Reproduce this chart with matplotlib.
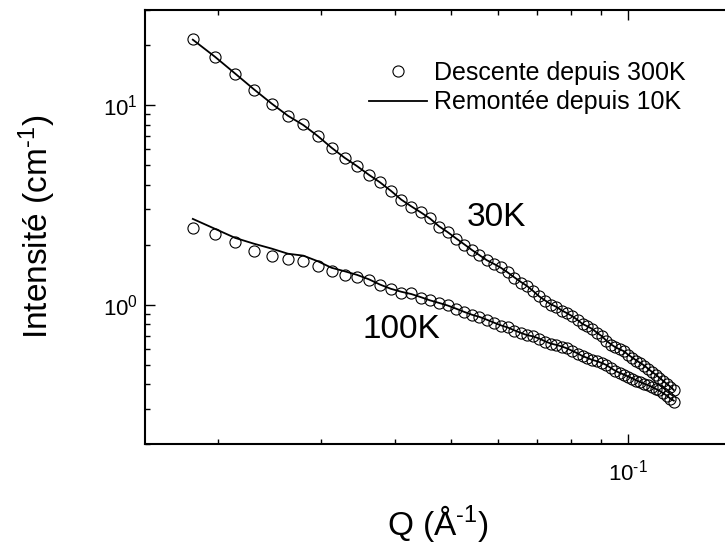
import matplotlib
matplotlib.use('Agg')
import matplotlib.pyplot as plt
from matplotlib.ticker import LogLocator, NullFormatter, FuncFormatter
import numpy as np

# SANS curves, log-log, 30K and 100K

plt.rcParams['font.family'] = ['Liberation Sans', 'DejaVu Sans']
plt.rcParams['mathtext.fontset'] = 'custom'
plt.rcParams['mathtext.rm'] = 'Liberation Sans'
plt.rcParams['mathtext.default'] = 'regular'

q = [0.0181, 0.01974, 0.02138, 0.02302, 0.02466, 0.0263, 0.02794, 0.02958, 0.03122, 0.03286,
     0.0345, 0.03614, 0.03778, 0.03942, 0.04106, 0.0427, 0.04434, 0.04598, 0.04762, 0.04926,
     0.0509, 0.05254, 0.05418, 0.05582, 0.05746, 0.0591, 0.06074, 0.06238, 0.06402, 0.06566,
     0.0673, 0.06894, 0.07058, 0.07222, 0.07386, 0.0755, 0.07714, 0.07878, 0.08042, 0.08206,
     0.0837, 0.08534, 0.08698, 0.08862, 0.09026, 0.0919, 0.09354, 0.09518, 0.09682, 0.09846,
     0.1001, 0.10174, 0.10338, 0.10502, 0.10666, 0.1083, 0.10994, 0.11158, 0.11322, 0.11486,
     0.1165, 0.11814, 0.11978]

i30_desc = [21.47, 17.36, 14.33, 11.93, 10.14, 8.81, 8.08, 6.99, 6.09, 5.43,
            4.96, 4.46, 4.11, 3.72, 3.34, 3.10, 2.91, 2.71, 2.45, 2.30,
            2.14, 2.00, 1.88, 1.78, 1.67, 1.60, 1.54, 1.46, 1.36, 1.29,
            1.245, 1.175, 1.103, 1.047, 1.0, 0.977, 0.933, 0.906, 0.876, 0.836,
            0.798, 0.780, 0.758, 0.724, 0.695, 0.656, 0.630, 0.612, 0.598, 0.588,
            0.562, 0.542, 0.524, 0.512, 0.494, 0.478, 0.459, 0.446, 0.431, 0.414,
            0.402, 0.386, 0.371]
i30_rem = [21.3, 17.5, 14.4, 12.0, 10.2, 8.85, 7.95, 7.0, 6.12, 5.45,
           4.95, 4.48, 4.10, 3.72, 3.36, 3.11, 2.90, 2.70, 2.47, 2.31,
           2.15, 2.01, 1.88, 1.77, 1.67, 1.60, 1.53, 1.45, 1.37, 1.30,
           1.24, 1.17, 1.10, 1.05, 1.005, 0.975, 0.935, 0.905, 0.874, 0.838,
           0.80, 0.778, 0.755, 0.722, 0.695, 0.66, 0.633, 0.612, 0.597, 0.584,
           0.561, 0.543, 0.525, 0.51, 0.495, 0.477, 0.46, 0.446, 0.43, 0.415,
           0.401, 0.388, 0.373]
i100_desc = [2.42, 2.26, 2.05, 1.85, 1.76, 1.69, 1.66, 1.57, 1.47, 1.40,
             1.38, 1.33, 1.25, 1.20, 1.15, 1.14, 1.08, 1.05, 1.02, 0.99,
             0.955, 0.917, 0.891, 0.871, 0.838, 0.812, 0.785, 0.771, 0.741, 0.720,
             0.703, 0.695, 0.675, 0.652, 0.638, 0.630, 0.616, 0.605, 0.585, 0.568,
             0.552, 0.539, 0.527, 0.521, 0.512, 0.497, 0.480, 0.464, 0.454, 0.446,
             0.436, 0.426, 0.416, 0.409, 0.402, 0.395, 0.386, 0.377, 0.371, 0.360,
             0.350, 0.336, 0.326]
i100_rem = [2.69, 2.40, 2.16, 2.02, 1.91, 1.80, 1.76, 1.65, 1.53, 1.47,
            1.41, 1.34, 1.26, 1.20, 1.16, 1.13, 1.09, 1.05, 1.02, 0.99,
            0.955, 0.92, 0.89, 0.868, 0.84, 0.812, 0.787, 0.768, 0.743, 0.722,
            0.703, 0.693, 0.676, 0.655, 0.638, 0.628, 0.617, 0.603, 0.586, 0.57,
            0.552, 0.54, 0.528, 0.52, 0.51, 0.498, 0.481, 0.466, 0.455, 0.446,
            0.436, 0.427, 0.417, 0.409, 0.401, 0.394, 0.387, 0.378, 0.37, 0.36,
            0.35, 0.338, 0.33]

HY = '\u2010'  # short hyphen like the original, not the long math minus


def pow10(v, pos):
    e = int(round(np.log10(v)))
    return '10$^{%s}$' % (str(e).replace('-', HY))


fig = plt.figure(figsize=(7.25, 5.45), dpi=100)
# the frame runs off the right edge, as in the original
ax = fig.add_axes([0.2, 0.1853, 0.8083, 0.7963])

mk = dict(ls='none', marker='o', ms=8, mfc='none', mec='k', mew=0.8)
ax.plot(q, i30_desc, label='Descente depuis 300K', **mk)
ax.plot(q, i100_desc, **mk)
ax.plot(q, i30_rem, color='k', lw=1.3, label='Remontée depuis 10K')
ax.plot(q, i100_rem, color='k', lw=1.3)

ax.set_xscale('log')
ax.set_yscale('log')
ax.set_xlim(0.015, 0.15)
ax.set_ylim(0.2, 30)
ax.xaxis.set_minor_locator(LogLocator(base=10, subs=range(2, 10)))
ax.xaxis.set_major_formatter(FuncFormatter(pow10))
ax.yaxis.set_major_formatter(FuncFormatter(pow10))
ax.xaxis.set_minor_formatter(NullFormatter())
ax.yaxis.set_minor_formatter(NullFormatter())

for s in ax.spines.values():
    s.set_linewidth(1.5)
ax.tick_params(which='both', direction='in', top=True, right=False, width=1.0, labelsize=16)
ax.tick_params(which='major', length=7.2)
ax.tick_params(which='minor', length=3.8)
ax.tick_params(axis='y', pad=5)
ax.tick_params(axis='x', pad=11)

ax.set_xlabel('Q (Å$^{' + HY + '1}$)', fontsize=24)
ax.set_ylabel('Intensité (cm$^{' + HY + '1}$)', fontsize=24)
ax.xaxis.set_label_coords(0.5, -0.136)
ax.yaxis.set_label_coords(-0.148, 0.5)

ax.text(0.0531, 2.49, '30K', fontsize=24, ha='left', va='baseline')
ax.text(0.03526, 0.683, '100K', fontsize=24, ha='left', va='baseline')

ax.legend(loc='upper left', bbox_to_anchor=(369/725, 1 - 61/545), bbox_transform=fig.transFigure,
          frameon=False, fontsize=18, handlelength=2.3, handletextpad=0.3,
          labelspacing=0.22, borderpad=0, borderaxespad=0)

fig.savefig('out.png', dpi=100)
